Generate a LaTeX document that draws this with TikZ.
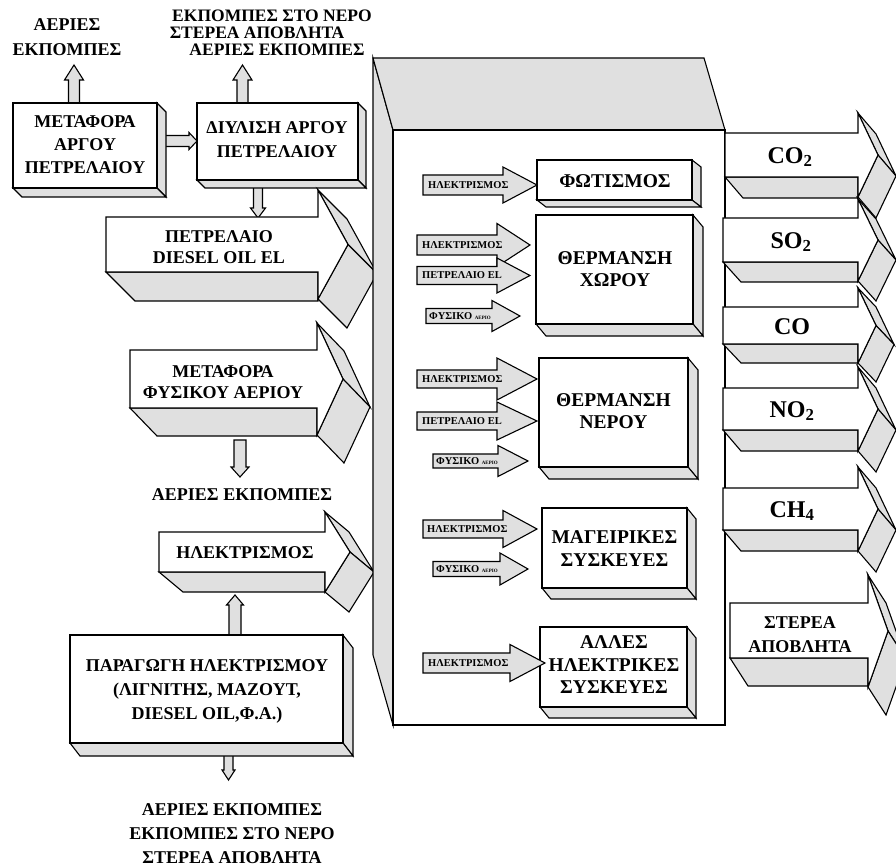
\documentclass[tikz,border=0pt]{standalone}
\usepackage{fontspec}
\setmainfont{Liberation Serif}
\definecolor{facegray}{HTML}{E0E0E0}
\tikzset{
  face/.style={fill=facegray, draw=black, line width=1.1pt, line join=miter},
  front/.style={fill=white, draw=black, line width=1.1pt, line join=miter},
  flat/.style={fill=facegray, draw=black, line width=1.1pt, line join=miter},
  lab/.style={font=\bfseries\fontsize{18}{#1}\selectfont, align=center, inner sep=0pt},
  lab/.default=23,
  toplab/.style={font=\bfseries\fontsize{17.5}{17}\selectfont, inner sep=0pt},
  boxlab/.style={font=\bfseries\fontsize{19.5}{22.5}\selectfont, align=center, inner sep=0pt},
  gaslab/.style={font=\bfseries\fontsize{24}{26}\selectfont, inner sep=0pt},
  smlab/.style={font=\bfseries\fontsize{10.5}{12}\selectfont, inner sep=0pt, anchor=west}
}
% 3D right arrow: L T B R C h X dx dy
\newcommand{\tdarrow}[9]{%
  \filldraw[face] (#1,#3) -- (#4,#3) -- (#4,#3+#9) -- (#1+#8,#3+#9) -- cycle;
  \filldraw[face] (#4,#5-#6) -- (#4+#8,#5-#6+#9) -- (#7+#8,#5+#9) -- (#7,#5) -- cycle;
  \filldraw[face] (#7,#5) -- (#7+#8,#5+#9) -- (#4+#8,#5+#6+#9) -- (#4,#5+#6) -- cycle;
  \filldraw[front] (#1,#2) -- (#4,#2) -- (#4,#5-#6) -- (#7,#5) -- (#4,#5+#6) -- (#4,#3) -- (#1,#3) -- cycle;
}
% 3D box: x1 y1 x2 y2 dx dy
\newcommand{\tdbox}[6]{%
  \filldraw[face] (#3,#2) -- (#3+#5,#2+#6) -- (#3+#5,#4+#6) -- (#3,#4) -- cycle;
  \filldraw[face] (#1,#4) -- (#3,#4) -- (#3+#5,#4+#6) -- (#1+#5,#4+#6) -- cycle;
  \filldraw[front] (#1,#2) rectangle (#3,#4);
}
% flat right arrow: L C s hb h X
\newcommand{\flatarrow}[6]{%
  \filldraw[flat] (#1,#2-#3) -- (#4,#2-#3) -- (#4,#2-#5) -- (#6,#2) -- (#4,#2+#5) -- (#4,#2+#3) -- (#1,#2+#3) -- cycle;
}
% vertical arrow: cx s start hb h tip
\newcommand{\vertarrow}[6]{%
  \filldraw[flat] (#1-#2,#3) -- (#1-#2,#4) -- (#1-#5,#4) -- (#1,#6) -- (#1+#5,#4) -- (#1+#2,#4) -- (#1+#2,#3) -- cycle;
}
\begin{document}
\begin{tikzpicture}[x=1pt,y=-1pt]
\path[use as bounding box] (0,0) rectangle (896,866);
\clip (0,0) rectangle (896,866);

% small connecting arrows
\vertarrow{74}{5.5}{105}{80}{9.5}{65}
\vertarrow{242.5}{5.5}{105}{80}{9.5}{65}
\vertarrow{258}{4.5}{185}{208}{7.5}{218}
\flatarrow{160}{141}{5.5}{189}{8.5}{197}

% left boxes
\tdbox{13}{103}{157}{188}{9}{9}
\tdbox{197}{103}{358}{180}{8}{8}

% big left arrows
\tdarrow{106}{217}{272}{318}{244.5}{54.5}{348}{29}{29}
\tdarrow{130}{350}{408}{317}{379}{56}{343}{27}{28}
\vertarrow{240}{6}{440}{467}{9}{477}
\vertarrow{235}{6}{636}{605}{8.5}{595}
\tdarrow{159}{532}{572}{325}{552}{40}{350}{24}{20}
\vertarrow{228.5}{4.5}{750}{770}{6.5}{780}

% electricity production box
\tdbox{70}{635}{343}{743}{10}{13}

% big central box
\filldraw[face] (373,58) -- (393,130) -- (393,725) -- (373,655) -- cycle;
\filldraw[face] (373,58) -- (704,58) -- (725,130) -- (393,130) -- cycle;
\filldraw[front] (393,130) rectangle (725,725);

% inner boxes
\tdbox{537}{160}{692}{200}{9}{7}
\tdbox{536}{215}{693}{324}{10}{12}
\tdbox{539}{358}{688}{467}{10}{12}
\tdbox{542}{508}{687}{588}{9}{11}
\tdbox{540}{627}{687}{707}{9}{11}

% inner flat arrows
\flatarrow{423}{185}{10}{503}{18}{537}
\flatarrow{417}{245}{10}{497}{21.5}{530}
\flatarrow{417}{275.5}{9}{497}{17.5}{530}
\flatarrow{426}{316}{7.5}{492}{15.5}{520}
\flatarrow{417}{379}{9}{497}{21}{537}
\flatarrow{417}{421}{9}{497}{19}{537}
\flatarrow{433}{461}{7}{498}{15.5}{528}
\flatarrow{423}{529}{9}{503}{18.5}{537}
\flatarrow{433}{569}{7.5}{500}{16}{528}
\flatarrow{423}{663}{10}{510}{18.5}{545}

% right emission arrows
\tdarrow{725}{133}{177}{858}{155}{42}{878}{18}{21}
\tdarrow{723}{218}{262}{858}{240}{41}{878}{18}{20}
\tdarrow{723}{307}{344}{858}{325.5}{37.5}{876}{18}{19}
\tdarrow{723}{388}{430}{858}{409}{42}{878}{18}{21}
\tdarrow{723}{488}{530}{858}{509}{42}{878}{18}{21}
\tdarrow{730}{603}{658}{868}{631}{56}{888}{18}{28}

% texts: left side
\node[lab=25] (tAer1) at (67,37) {ΑΕΡΙΕΣ\\ΕΚΠΟΜΠΕΣ};
\node[toplab] (tNer1) at (272,16) {ΕΚΠΟΜΠΕΣ ΣΤΟ ΝΕΡΟ};
\node[toplab] (tSte1) at (257,33) {ΣΤΕΡΕΑ ΑΠΟΒΛΗΤΑ};
\node[toplab] (tAer2) at (277,50) {ΑΕΡΙΕΣ ΕΚΠΟΜΠΕΣ};
\node[lab] (tMet) at (85,145) {ΜΕΤΑΦΟΡΑ\\ΑΡΓΟΥ\\ΠΕΤΡΕΛΑΙΟΥ};
\node[lab=24] (tDiy) at (277,140) {ΔΙΥΛΙΣΗ ΑΡΓΟΥ\\ΠΕΤΡΕΛΑΙΟΥ};
\node[lab=21.5] (tPet) at (219,247) {ΠΕΤΡΕΛΑΙΟ\\DIESEL OIL EL};
\node[lab=21.5] (tFys) at (223,382) {ΜΕΤΑΦΟΡΑ\\ΦΥΣΙΚΟΥ ΑΕΡΙΟΥ};
\node[lab] (tAer3) at (242,495) {ΑΕΡΙΕΣ ΕΚΠΟΜΠΕΣ};
\node[lab] (tIlek) at (245,553) {ΗΛΕΚΤΡΙΣΜΟΣ};
\node[lab=24] (tPar) at (207,691) {ΠΑΡΑΓΩΓΗ ΗΛΕΚΤΡΙΣΜΟΥ\\(ΛΙΓΝΙΤΗΣ, ΜΑΖΟΥΤ,\\DIESEL OIL,Φ.Α.)};
\node[lab=24] (tBot) at (232,834) {ΑΕΡΙΕΣ ΕΚΠΟΜΠΕΣ\\ΕΚΠΟΜΠΕΣ ΣΤΟ ΝΕΡΟ\\ΣΤΕΡΕΑ ΑΠΟΒΛΗΤΑ};

% texts: inner boxes
\node[boxlab] (tFot) at (615,181) {ΦΩΤΙΣΜΟΣ};
\node[boxlab] (tXor) at (615,269) {ΘΕΡΜΑΝΣΗ\\ΧΩΡΟΥ};
\node[boxlab] (tNer) at (613.5,411) {ΘΕΡΜΑΝΣΗ\\ΝΕΡΟΥ};
\node[boxlab] (tMag) at (614.5,548.5) {ΜΑΓΕΙΡΙΚΕΣ\\ΣΥΣΚΕΥΕΣ};
\node[boxlab] (tAll) at (614,665) {ΑΛΛΕΣ\\ΗΛΕΚΤΡΙΚΕΣ\\ΣΥΣΚΕΥΕΣ};

% texts: inner small arrows
\node[smlab] (s1) at (428,185) {ΗΛΕΚΤΡΙΣΜΟΣ};
\node[smlab] (s2) at (422,245) {ΗΛΕΚΤΡΙΣΜΟΣ};
\node[smlab] (s3) at (422,275.5) {ΠΕΤΡΕΛΑΙΟ EL};
\node[smlab] (s4) at (429,316) {ΦΥΣΙΚΟ {\fontsize{5}{6}\selectfont ΑΕΡΙΟ}};
\node[smlab] (s5) at (422,379) {ΗΛΕΚΤΡΙΣΜΟΣ};
\node[smlab] (s6) at (422,421) {ΠΕΤΡΕΛΑΙΟ EL};
\node[smlab] (s7) at (436,461) {ΦΥΣΙΚΟ {\fontsize{5}{6}\selectfont ΑΕΡΙΟ}};
\node[smlab] (s8) at (427,529) {ΗΛΕΚΤΡΙΣΜΟΣ};
\node[smlab] (s9) at (436,569) {ΦΥΣΙΚΟ {\fontsize{5}{6}\selectfont ΑΕΡΙΟ}};
\node[smlab] (s10) at (428,663) {ΗΛΕΚΤΡΙΣΜΟΣ};

% texts: emissions
\node[gaslab] (gCO2) at (790,157) {CO\textsubscript{2}};
\node[gaslab] (gSO2) at (791,242) {SO\textsubscript{2}};
\node[gaslab] (gCO) at (792,327) {CO};
\node[gaslab] (gNO2) at (792,411) {NO\textsubscript{2}};
\node[gaslab] (gCH4) at (792,511) {CH\textsubscript{4}};
\node[lab=24] (gSte) at (800,635) {ΣΤΕΡΕΑ\\ΑΠΟΒΛΗΤΑ};
\end{tikzpicture}
\end{document}
